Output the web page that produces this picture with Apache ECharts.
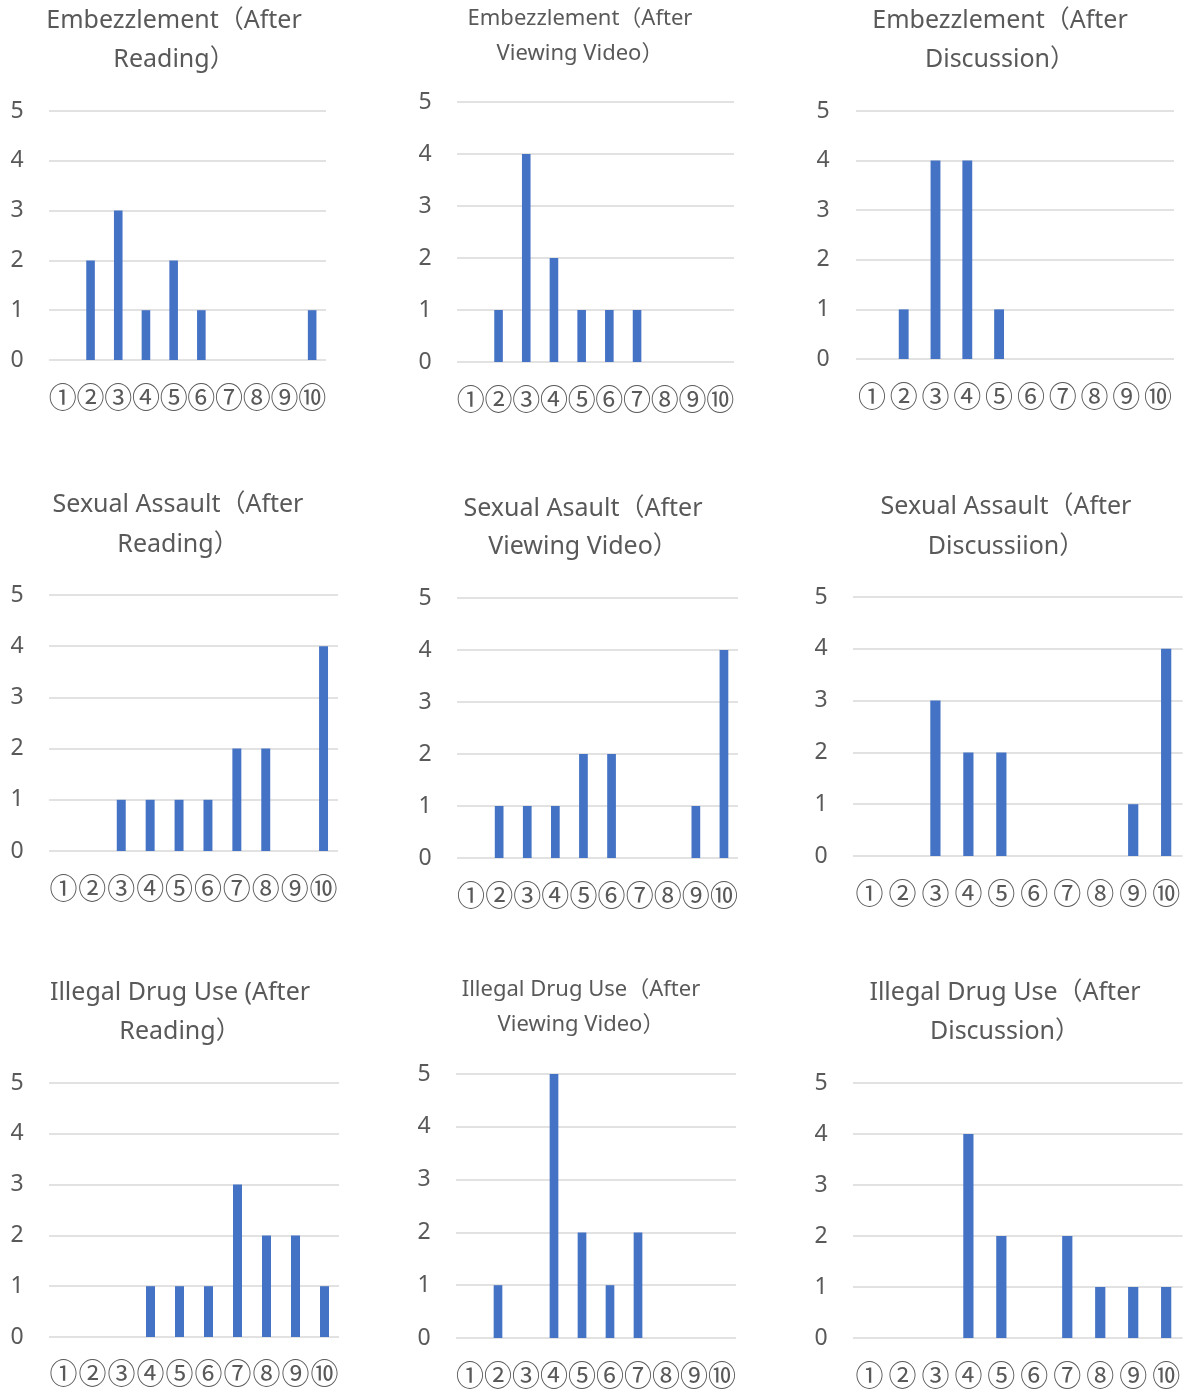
<!DOCTYPE html>
<html>
<head>
<meta charset="utf-8">
<script src="https://cdn.jsdelivr.net/npm/echarts@6/dist/echarts.min.js"></script>
<style>
  html, body { margin: 0; padding: 0; background: #ffffff; }
  #chart { width: 1183px; height: 1390px; }
</style>
</head>
<body>
<div id="chart"></div>
<script>
// Response categories ① … ⑩
const CATEGORIES = ['①', '②', '③', '④', '⑤', '⑥', '⑦', '⑧', '⑨', '⑩'];

// Number of responses per category
const EMBEZZLEMENT_READING = [0, 2, 3, 1, 2, 1, 0, 0, 0, 1];
const EMBEZZLEMENT_VIDEO = [0, 1, 4, 2, 1, 1, 1, 0, 0, 0];
const EMBEZZLEMENT_DISCUSSION = [0, 1, 4, 4, 1, 0, 0, 0, 0, 0];
const ASSAULT_READING = [0, 0, 1, 1, 1, 1, 2, 2, 0, 4];
const ASSAULT_VIDEO = [0, 1, 1, 1, 2, 2, 0, 0, 1, 4];
const ASSAULT_DISCUSSION = [0, 0, 3, 2, 2, 0, 0, 0, 1, 4];
const DRUG_READING = [0, 0, 0, 1, 1, 1, 3, 2, 2, 1];
const DRUG_VIDEO = [0, 1, 0, 5, 2, 1, 2, 0, 0, 0];
const DRUG_DISCUSSION = [0, 0, 0, 4, 2, 0, 2, 1, 1, 1];

// Value axis range
const Y_MIN = 0;
const Y_MAX = 5;
const Y_STEP = 1;

const TEXT_COLOR = '#595959';
const BAR_COLOR = '#4472C4';
const GRID_COLOR = '#d9d9d9';
const FONT = '"Noto Sans", "Noto Sans CJK JP", sans-serif';
const CIRCLE_FONT = '"Noto Sans CJK JP", sans-serif';

// Panel layout: title centre/lines, plot rectangle, label positions
const PANELS = [
  { title: 'Embezzlement（After\nReading）', data: EMBEZZLEMENT_READING,
    tx: 174, ty1: 21, ty2: 60, fs: 25, x0: 49, x1: 326, y0: 111, y1: 360, ylx: 17, cy: 397 },
  { title: 'Embezzlement（After\nViewing Video）', data: EMBEZZLEMENT_VIDEO,
    tx: 580, ty1: 18.5, ty2: 53.5, fs: 22, x0: 457, x1: 734, y0: 102, y1: 362, ylx: 425, cy: 399 },
  { title: 'Embezzlement（After\nDiscussion）', data: EMBEZZLEMENT_DISCUSSION,
    tx: 1000, ty1: 21, ty2: 60, fs: 25, x0: 856, x1: 1174, y0: 111, y1: 359, ylx: 823, cy: 396 },
  { title: 'Sexual Assault（After\nReading）', data: ASSAULT_READING,
    tx: 178, ty1: 505, ty2: 545, fs: 25, x0: 49, x1: 338, y0: 595, y1: 851, ylx: 17, cy: 888 },
  { title: 'Sexual Asault（After\nViewing Video）', data: ASSAULT_VIDEO,
    tx: 583, ty1: 509, ty2: 547, fs: 25, x0: 457, x1: 738, y0: 598, y1: 858, ylx: 425, cy: 895 },
  { title: 'Sexual Assault（After\nDiscussiion）', data: ASSAULT_DISCUSSION,
    tx: 1006, ty1: 507, ty2: 547, fs: 25, x0: 853, x1: 1186, y0: 597, y1: 856, ylx: 821, cy: 893 },
  { title: 'Illegal Drug Use (After\nReading）', data: DRUG_READING,
    tx: 180, ty1: 993, ty2: 1032, fs: 25, x0: 49, x1: 339, y0: 1083, y1: 1337, ylx: 17, cy: 1373 },
  { title: 'Illegal Drug Use（After\nViewing Video）', data: DRUG_VIDEO,
    tx: 581, ty1: 989.5, ty2: 1024.5, fs: 22, x0: 456, x1: 736, y0: 1074, y1: 1338, ylx: 424, cy: 1375 },
  { title: 'Illegal Drug Use（After\nDiscussion）', data: DRUG_DISCUSSION,
    tx: 1005, ty1: 993, ty2: 1032, fs: 25, x0: 853, x1: 1186, y0: 1083, y1: 1338, ylx: 821, cy: 1375 }
];

const grid = [], xAxis = [], yAxis = [], series = [], graphic = [];

PANELS.forEach((p, i) => {
  grid.push({ left: p.x0, top: p.y0, width: p.x1 - p.x0, height: p.y1 - p.y0, containLabel: false });

  xAxis.push({
    type: 'category', gridIndex: i, data: CATEGORIES,
    axisLine: { show: false }, axisTick: { show: false },
    axisLabel: {
      interval: 0, margin: p.cy - p.y1, verticalAlign: 'middle', align: 'center',
      color: TEXT_COLOR, fontSize: 28, fontFamily: CIRCLE_FONT
    }
  });

  yAxis.push({
    type: 'value', gridIndex: i, min: Y_MIN, max: Y_MAX, interval: Y_STEP,
    axisLine: { show: false }, axisTick: { show: false },
    splitLine: { lineStyle: { color: GRID_COLOR, width: 1.5 } },
    axisLabel: {
      margin: p.x0 - p.ylx, align: 'center', padding: [4, 0, 0, 0],
      color: TEXT_COLOR, fontSize: 23, fontFamily: FONT
    }
  });

  series.push({
    type: 'bar', xAxisIndex: i, yAxisIndex: i, data: p.data,
    barWidth: '31%', itemStyle: { color: BAR_COLOR },
    silent: true, animation: false
  });

  graphic.push({
    type: 'text', x: p.tx, y: (p.ty1 + p.ty2) / 2, silent: true,
    style: {
      text: p.title, fill: TEXT_COLOR, fontSize: p.fs, fontFamily: FONT,
      align: 'center', verticalAlign: 'middle', lineHeight: p.ty2 - p.ty1
    }
  });
});

const chart = echarts.init(document.getElementById('chart'), null, { renderer: 'canvas' });
chart.setOption({
  backgroundColor: '#ffffff',
  animation: false,
  grid, xAxis, yAxis, series, graphic
});
</script>
</body>
</html>
